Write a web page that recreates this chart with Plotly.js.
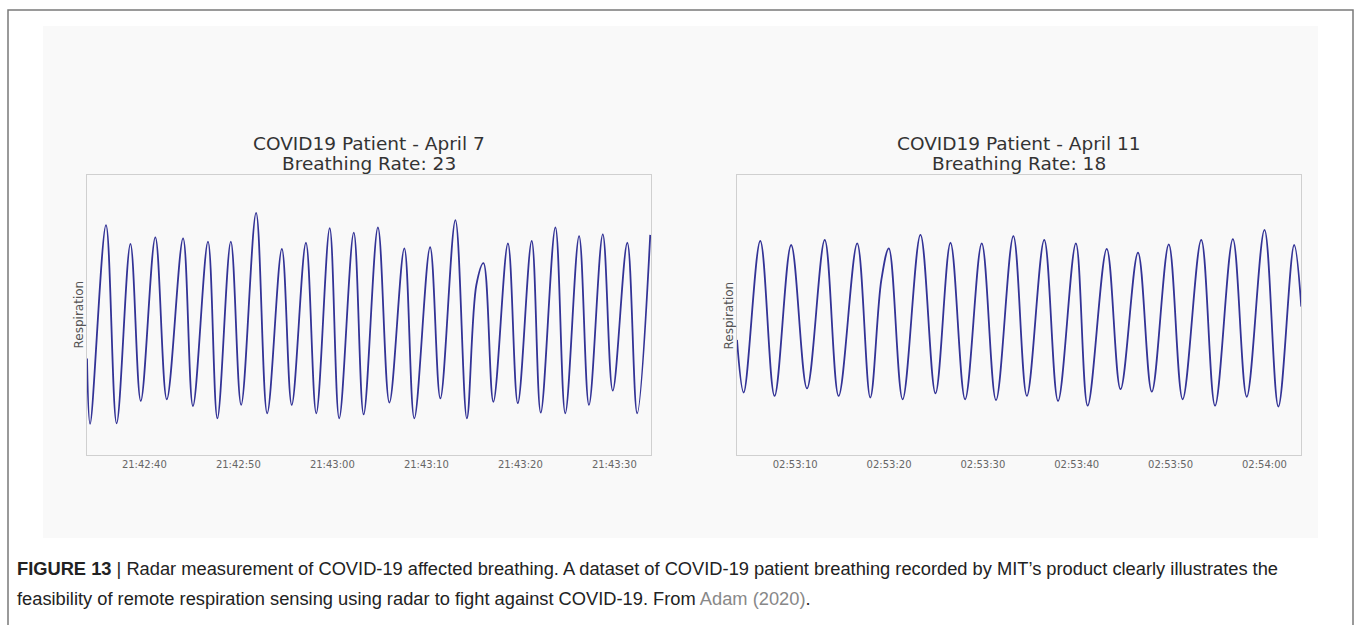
<!DOCTYPE html>
<html>
<head>
<meta charset="utf-8">
<script src="https://cdn.plot.ly/plotly-3.0.1.min.js"></script>
<style>html,body{margin:0;padding:0;background:#fff;}#chart{width:1356px;height:625px;}</style>
</head>
<body>
<div id="chart"></div>
<script>
// April 7 — seconds after 21:42:00
var secApr7 = [33.90,34.23,35.92,37.05,38.52,39.62,41.17,42.39,44.12,45.17,46.77,47.77,49.20,50.30,51.89,53.07,54.63,55.68,57.19,58.29,59.72,60.73,62.28,63.33,64.85,66.07,67.66,68.72,70.40,71.49,73.09,74.31,75.32,76.08,77.13,78.68,79.73,81.21,82.17,83.73,84.78,86.25,87.30,88.77,89.83,91.38,92.43,93.82];
var respApr7 = [34.5,11.1,82.1,11.3,75.4,19.3,77.7,19.9,77.4,17.5,76.2,13.1,76.2,17.9,86.5,14.9,73.6,17.9,75.8,14.9,81.0,13.1,79.4,14.5,81.3,18.7,73.8,13.1,74.2,20.2,83.9,13.1,60.7,68.5,19.0,75.6,18.5,76.5,15.1,81.3,14.9,78.2,17.9,78.8,23.0,75.8,14.9,78.6];
// April 11 — seconds after 02:53:00
var secApr11 = [3.80,4.51,6.28,7.80,9.57,11.26,13.15,14.63,16.61,18.00,19.18,19.98,21.45,23.35,24.95,26.55,28.11,29.88,31.40,33.25,34.69,36.54,38.01,39.91,41.17,43.20,44.67,46.53,48.00,49.81,51.29,53.27,54.74,56.64,58.12,60.01,61.49,63.17,63.93];
var respApr11 = [41.1,22.3,76.5,21.1,75.0,23.8,76.8,21.1,75.6,20.5,62.5,73.8,19.9,78.6,22.0,75.8,19.9,75.6,19.6,78.2,21.1,76.8,19.3,75.6,17.6,73.6,23.5,72.3,22.6,75.2,19.9,76.8,17.6,77.1,20.8,80.4,17.3,75.0,53.0];

var ticksApr7 = ['21:42:40','21:42:50','21:43:00','21:43:10','21:43:20','21:43:30'];
var ticksApr11 = ['02:53:10','02:53:20','02:53:30','02:53:40','02:53:50','02:54:00'];
var titlesLeft = ['COVID19 Patient - April 7','Breathing Rate: 23'];
var titlesRight = ['COVID19 Patient - April 11','Breathing Rate: 18'];

function toDate(base, hh, mm, s) {
  var total = hh*3600 + mm*60 + s;
  var h = Math.floor(total/3600), m = Math.floor((total%3600)/60), sec = total - h*3600 - m*60;
  function p(n){return (n<10?'0':'')+n;}
  var ss = sec.toFixed(2); if (sec < 10) ss = '0'+ss;
  return base + ' ' + p(h) + ':' + p(m) + ':' + ss;
}
var xApr7 = secApr7.map(function(s){return toDate('2020-04-07',21,42,s);});
var xApr11 = secApr11.map(function(s){return toDate('2020-04-11',2,53,s);});
var tvApr7 = ticksApr7.map(function(t){return '2020-04-07 '+t;});
var tvApr11 = ticksApr11.map(function(t){return '2020-04-11 '+t;});

var W = 1356, H = 625;
function px(x){return x/W;}
function py(y){return 1 - y/H;}

var lineStyle = {color:'#333396', width:1.8, shape:'spline', smoothing:1};
var traces = [
  {x:xApr7, y:respApr7, type:'scatter', mode:'lines', line:lineStyle, xaxis:'x', yaxis:'y', hoverinfo:'skip'},
  {x:xApr11, y:respApr11, type:'scatter', mode:'lines', line:lineStyle, xaxis:'x2', yaxis:'y2', hoverinfo:'skip'}
];

function xax(dom, range, tv, tt) {
  return {domain:dom, type:'date', range:range, tickmode:'array', tickvals:tv, ticktext:tt,
    showgrid:false, zeroline:false, showline:true, mirror:true, linecolor:'#d0d0d0', linewidth:1,
    ticks:'', ticklen:0, tickfont:{family:'DejaVu Sans', size:10, color:'#666'}, fixedrange:true};
}
function yax(anchor) {
  return {domain:[py(455), py(175)], range:[0,100], anchor:anchor, showticklabels:false, ticks:'',
    showgrid:false, zeroline:false, showline:true, mirror:true, linecolor:'#d0d0d0', linewidth:1, fixedrange:true};
}

var txtFont = {family:'DejaVu Sans', size:18.5, color:'#333'};
var annotations = [];
function addTitle(lines, cx) {
  annotations.push({xref:'paper', yref:'paper', x:px(cx), y:py(143), text:lines[0], showarrow:false, xanchor:'center', yanchor:'middle', font:txtFont});
  annotations.push({xref:'paper', yref:'paper', x:px(cx), y:py(164), text:lines[1], showarrow:false, xanchor:'center', yanchor:'middle', font:txtFont});
}
addTitle(titlesLeft, 369);
addTitle(titlesRight, 1019);
[[78.5],[728.5]].forEach(function(a){
  annotations.push({xref:'paper', yref:'paper', x:px(a[0]), y:py(315), text:'Respiration', textangle:-90, showarrow:false, xanchor:'center', yanchor:'middle', font:{family:'DejaVu Sans', size:12, color:'#555'}});
});
var capFont = {family:'Liberation Sans', size:18.3, color:'#222'};
annotations.push({xref:'paper', yref:'paper', x:px(15), y:py(568), xanchor:'left', yanchor:'middle', showarrow:false, align:'left', font:capFont,
  text:'<b>FIGURE 13</b> | Radar measurement of COVID-19 affected breathing. A dataset of COVID-19 patient breathing recorded by MIT\u2019s product clearly illustrates the'});
annotations.push({xref:'paper', yref:'paper', x:px(15), y:py(598), xanchor:'left', yanchor:'middle', showarrow:false, align:'left', font:capFont,
  text:'feasibility of remote respiration sensing using radar to fight against COVID-19. From <span style="color:#888">Adam (2020)</span>.'});

var shapes = [
  {type:'rect', xref:'paper', yref:'paper', x0:px(8), x1:px(1353), y0:py(640), y1:py(10), line:{color:'#7a7a7a', width:1.5}, fillcolor:'rgba(0,0,0,0)', layer:'below'},
  {type:'rect', xref:'paper', yref:'paper', x0:px(43), x1:px(1318), y0:py(538), y1:py(26), line:{width:0}, fillcolor:'#f9f9f9', layer:'below'}
];

var layout = {
  width:W, height:H, margin:{l:0,r:0,t:0,b:0}, showlegend:false,
  paper_bgcolor:'#ffffff', plot_bgcolor:'rgba(0,0,0,0)',
  xaxis: xax([px(87), px(651)], ['2020-04-07 21:42:33.9','2020-04-07 21:43:33.9'], tvApr7, ticksApr7),
  yaxis: yax('x'),
  xaxis2: xax([px(737), px(1301)], ['2020-04-11 02:53:03.8','2020-04-11 02:54:03.9'], tvApr11, ticksApr11),
  yaxis2: yax('x2'),
  annotations: annotations, shapes: shapes
};
layout.xaxis.anchor = 'y';
layout.xaxis2.anchor = 'y2';

Plotly.newPlot('chart', traces, layout, {displayModeBar:false, staticPlot:true});
</script>
</body>
</html>
